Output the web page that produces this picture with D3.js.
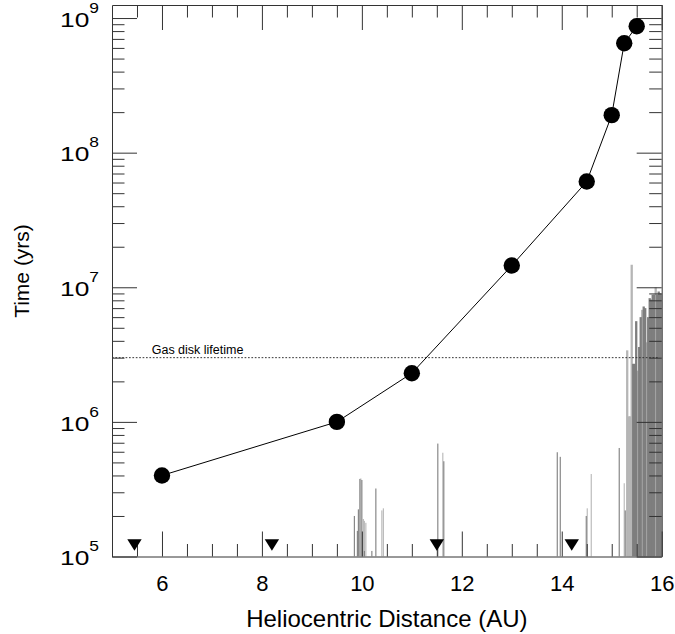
<!DOCTYPE html>
<html><head><meta charset="utf-8">
<script src="https://cdn.jsdelivr.net/npm/d3@7"></script>
<style>
body{margin:0;background:#fff}
svg{display:block}
text{font-family:"Liberation Sans",Arial,Helvetica,sans-serif;fill:#000}
</style>
</head><body>
<svg id="c" width="675" height="634"></svg>
<script>
// ---- data ----
const distAU   = [6, 9.5, 11, 13, 14.5, 15, 15.25, 15.5];
const timeYrs  = [4e5, 1e6, 2.3e6, 1.45e7, 6.1e7, 1.9e8, 6.5e8, 8.7e8];

const planetAU = [5.45, 8.2, 11.5, 14.2];

const gasLifetime = 3e6;
const gasLabel = "Gas disk lifetime";

const sparseAU    = [9.85, 9.91, 9.93, 9.96, 9.98, 10.00, 10.03, 10.05, 10.05, 10.08, 10.20, 10.28, 10.40, 10.43, 11.52, 11.62, 11.64, 13.91, 13.97, 14.49, 14.51, 14.59, 15.15, 15.25, 15.27];
const sparseTime  = [2.0e5, 1.55e5, 2.24e5, 3.77e5, 3.8e5, 3.7e5, 1.9e5, 1.84e5, 1.1e5, 1.78e5, 1.1e5, 3.2e5, 2.2e5, 2.28e5, 6.9e5, 5.9e5, 5.1e5, 5.95e5, 5.5e5, 2.0e5, 2.28e5, 4.1e5, 6.4e5, 3.5e5, 2.2e5];
const sparseShade = ["d","d","d","d","l","d","l","l","d","l","d","d","l","l","d","l","d","d","d","d","l","l","d","l","d"];

const denseAU    = [15.31, 15.34, 15.37, 15.40, 15.43, 15.46, 15.49, 15.52, 15.55, 15.58, 15.61, 15.64, 15.67, 15.70, 15.73, 15.76, 15.79, 15.82, 15.85, 15.88, 15.91, 15.94, 15.97, 16.00];
const denseTime  = [3.4e6, 1.1e6, 1.1e6, 1.47e7, 2.7e6, 2.7e6, 5.6e6, 2.4e6, 3.6e6, 6.0e6, 6.8e6, 7.2e6, 7.0e6, 3.9e6, 6.0e6, 8.3e6, 8.1e6, 8.8e6, 8.8e6, 1.0e7, 8.8e6, 9.3e6, 9.0e6, 9.0e6];
const denseShade = ["l","l","l","l","d","d","d","l","d","d","l","d","d","l","d","d","d","d","d","l","d","d","d","d"];

const yMajor = [1e5, 1e6, 1e7, 1e8, 1e9];
const yExp   = ["5", "6", "7", "8", "9"];
const xMajor = [6, 8, 10, 12, 14, 16];
const xMinor = [5.5, 6.5, 7, 7.5, 8.5, 9, 9.5, 10.5, 11, 11.5, 12.5, 13, 13.5, 14.5, 15, 15.5];

const xTitle = "Heliocentric Distance (AU)";
const yTitle = "Time (yrs)";

// ---- drawing ----
const L = 112, R = 661.7, T = 5, B = 556.5;
const x = d3.scaleLinear().domain([5, 16]).range([L, R]);
const y = d3.scaleLog().domain([1e5, 1.25e9]).range([B, T]);
const yMinor = [];
for (let k = 5; k <= 8; k++) for (let m = 2; m <= 9; m++) yMinor.push(m * Math.pow(10, k));

const svg = d3.select("#c");
svg.append("clipPath").attr("id", "clip").append("rect")
  .attr("x", L).attr("y", T).attr("width", R - L).attr("height", B - T);

const shadeColor = s => s === "d" ? "#7e7e7e" : "#b6b6b6";
const bars = [];
sparseAU.forEach((a, i) => bars.push({a, t: sparseTime[i], s: sparseShade[i], w: 1.1}));
const dw = x(15.03) - x(15) + 0.8;
denseAU.forEach((a, i) => bars.push({a, t: denseTime[i], s: denseShade[i], w: dw}));
bars.sort((p, q) => (p.s === "l" ? 0 : 1) - (q.s === "l" ? 0 : 1));

svg.append("g").attr("clip-path", "url(#clip)")
  .selectAll("rect").data(bars).join("rect")
  .attr("x", d => x(d.a) - d.w / 2)
  .attr("y", d => y(d.t))
  .attr("width", d => d.w)
  .attr("height", d => y(1e5) - y(d.t))
  .attr("fill", d => shadeColor(d.s));

// gas disk lifetime
svg.append("line")
  .attr("x1", x(5)).attr("x2", x(15.92))
  .attr("y1", y(gasLifetime)).attr("y2", y(gasLifetime))
  .attr("stroke", "#333").attr("stroke-width", 1).attr("stroke-dasharray", "1.7,1.7");
svg.append("text").attr("x", x(5.795)).attr("y", y(gasLifetime) - 4)
  .attr("font-size", 12.5).text(gasLabel);

// axes
const axisColor = "#333";
function styleAxis(g, removeDomain) {
  g.selectAll("line").attr("stroke", axisColor);
  g.select(".domain").attr("stroke", axisColor);
  if (removeDomain) g.select(".domain").remove();
  g.selectAll("text").remove();
}
svg.append("g").attr("transform", `translate(${L},0)`)
  .call(d3.axisLeft(y).tickValues(yMinor).tickSize(-12.5).tickSizeOuter(0).tickFormat(""))
  .call(g => styleAxis(g, true));
svg.append("g").attr("transform", `translate(${L},0)`)
  .call(d3.axisLeft(y).tickValues(yMajor).tickSize(-25).tickSizeOuter(0).tickFormat(""))
  .call(g => styleAxis(g, false));
svg.append("g").attr("transform", `translate(${R},0)`)
  .call(d3.axisRight(y).tickValues(yMinor).tickSize(-12.5).tickSizeOuter(0).tickFormat(""))
  .call(g => styleAxis(g, true));
svg.append("g").attr("transform", `translate(${R},0)`)
  .call(d3.axisRight(y).tickValues(yMajor).tickSize(-25).tickSizeOuter(0).tickFormat(""))
  .call(g => styleAxis(g, false));
svg.append("g").attr("transform", `translate(0,${T})`)
  .call(d3.axisTop(x).tickValues(xMinor).tickSize(-12.5).tickSizeOuter(0).tickFormat(""))
  .call(g => styleAxis(g, true));
svg.append("g").attr("transform", `translate(0,${T})`)
  .call(d3.axisTop(x).tickValues(xMajor).tickSize(-25).tickSizeOuter(0).tickFormat(""))
  .call(g => styleAxis(g, false));
svg.append("g").attr("transform", `translate(0,${B})`)
  .call(d3.axisBottom(x).tickValues(xMinor).tickSize(-12.5).tickSizeOuter(0).tickFormat(""))
  .call(g => styleAxis(g, true));
const xAx = svg.append("g").attr("transform", `translate(0,${B})`)
  .call(d3.axisBottom(x).tickValues(xMajor).tickSize(-25).tickSizeOuter(0).tickPadding(19).tickFormat(d3.format("d")));
xAx.selectAll("line").attr("stroke", axisColor);
xAx.select(".domain").attr("stroke", axisColor);
xAx.selectAll("text").attr("font-size", 22).attr("font-family", '"Liberation Sans",Arial,sans-serif').attr("fill", "#000");

// y tick labels 10^n
const yl = svg.append("g");
yMajor.forEach((v, i) => {
  const by = y(v) + 8.7;
  yl.append("text").attr("x", 60).attr("y", by).attr("font-size", 21)
    .attr("textLength", 29.3).attr("lengthAdjust", "spacingAndGlyphs").text("10");
  yl.append("text").attr("x", 89.3).attr("y", by - 14).attr("font-size", 14)
    .attr("textLength", 9.7).attr("lengthAdjust", "spacingAndGlyphs").text(yExp[i]);
});

// connecting line and points
svg.append("path")
  .attr("d", d3.line().x((d, i) => x(d)).y((d, i) => y(timeYrs[i]))(distAU))
  .attr("fill", "none").attr("stroke", "#000").attr("stroke-width", 1);
svg.append("g").selectAll("circle").data(distAU).join("circle")
  .attr("cx", d => x(d)).attr("cy", (d, i) => y(timeYrs[i])).attr("r", 8.2).attr("fill", "#000");

// planet triangles
svg.append("g").selectAll("path").data(planetAU).join("path")
  .attr("transform", d => `translate(${x(d)},${y(1e5) - 5.8})`)
  .attr("d", "M-7.2,-11.4L7.2,-11.4L0,0Z").attr("fill", "#000");

// titles
svg.append("text").attr("x", (L + R) / 2).attr("y", 626.7).attr("text-anchor", "middle")
  .attr("font-size", 24).text(xTitle);
svg.append("text").attr("transform", "translate(29,271) rotate(-90)").attr("text-anchor", "middle")
  .attr("font-size", 21).text(yTitle);
</script>
</body></html>
